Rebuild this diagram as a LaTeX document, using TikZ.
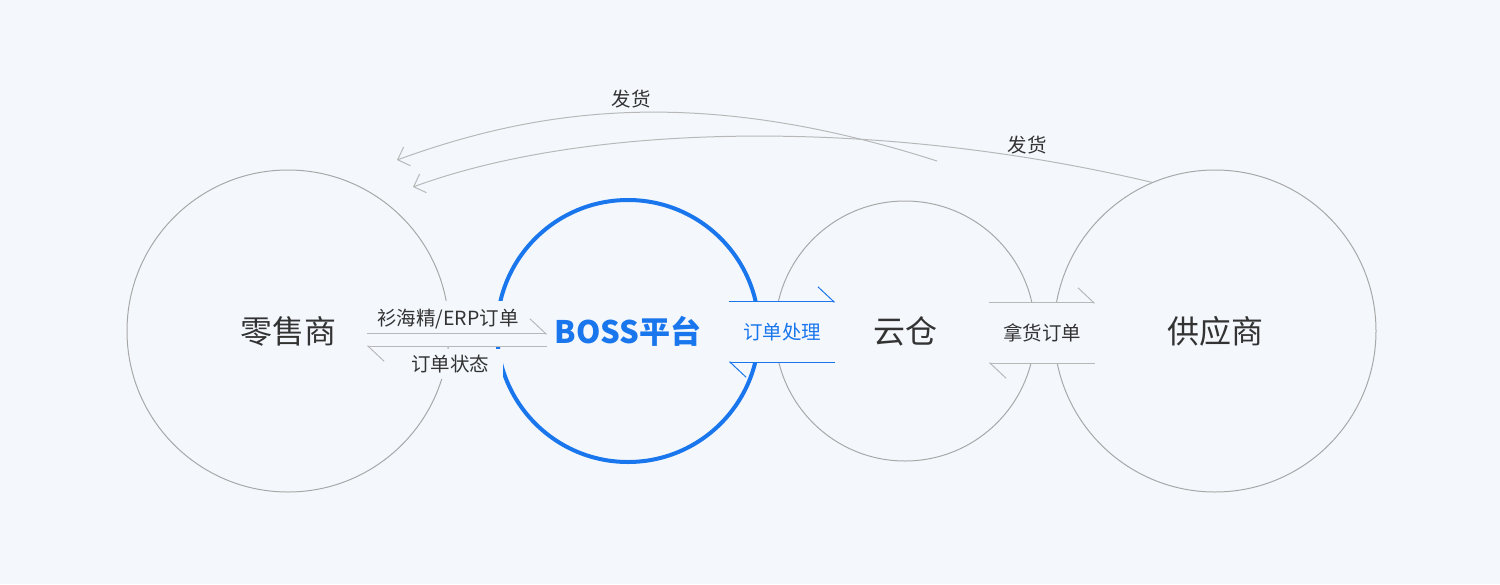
\documentclass[tikz,border=0pt]{standalone}
\usepackage{fontspec}
\setmainfont{Noto Sans CJK SC}
\usepackage{tikz}
\usetikzlibrary{positioning, arrows.meta}

\definecolor{bgcol}{HTML}{F4F8FD}
\definecolor{ringgray}{HTML}{A8A8A8}
\definecolor{linegray}{HTML}{B8B8B8}
\definecolor{bossblue}{HTML}{1A76EC}
\definecolor{txtgray}{HTML}{333333}

\begin{document}
\begin{tikzpicture}[
        x=1pt, y=-1pt,
        party/.style={circle, draw=ringgray, line width=1pt, text=txtgray, font=\fontsize{32}{32}\selectfont},
        core/.style={circle, draw=bossblue, line width=4pt, text=bossblue, font=\fontsize{31}{31}\selectfont\bfseries},
        tag/.style={fill=bgcol, text=txtgray, inner sep=6pt, font=\fontsize{19.5}{19.5}\selectfont},
        lane/.style={rectangle, fill=bgcol, inner sep=0pt},
        harp/.style={line width=1pt, draw=linegray, -{Straight Barb[left, length=16pt, width=30pt]}},
        ship/.style={line width=1pt, draw=linegray, -{Straight Barb[length=10pt, width=20pt]}}
    ]

        % 背景
        \fill[bgcol] (0,0) rectangle (1500,584);
        \useasboundingbox (0,0) rectangle (1500,584);

        % ===== 四个角色 =====
        \node (retail) [party, minimum size=322pt] at (288,331) {零售商};
        \node (boss) [core, minimum size=262pt, right=45.5pt of retail] {BOSS平台};
        \node (cloud) [party, minimum size=260pt, right=13.5pt of boss] {云仓};
        \node (supply) [party, minimum size=322pt, right=18pt of cloud] {供应商};

        % ===== 标签区域 =====
        \node (erpbox) [lane, minimum width=180pt, minimum height=12pt] at (457,340) {};
        \node (erp) [tag, inner xsep=12pt, inner ysep=8pt] at (448,319) {衫海精/ERP订单};
        \node (state) [tag, inner xsep=14pt] at (450,364) {订单状态};
        \node (handle) [lane, minimum width=106pt, minimum height=60pt, text=bossblue,
            font=\fontsize{19.5}{19.5}\selectfont] at (782,332) {订单处理};
        \node (pick) [lane, minimum width=106pt, minimum height=60pt, text=txtgray,
            font=\fontsize{19.5}{19.5}\selectfont] at (1042,333) {拿货订单};

        % ===== 箭头连接 =====
        \draw [harp] (erpbox.north west) -- (erpbox.north east);
        \draw [harp] (erpbox.south east) -- (erpbox.south west);
        \draw [harp, draw=bossblue] (handle.north west) -- (handle.north east);
        \draw [harp, draw=bossblue] (handle.south east) -- (handle.south west);
        \draw [harp] (pick.north west) -- (pick.north east);
        \draw [harp] (pick.south east) -- (pick.south west);

        % 发货
        \coordinate (cloudout) at (937,161);
        \coordinate (retailin1) at (397,160);
        \coordinate (retailin2) at (413,187);
        \draw [ship] (cloudout) .. controls (700,85) and (540,108) .. (retailin1);
        \draw [ship] (supply.113) .. controls (880,118) and (590,122) .. (retailin2);
        \node (ship1) [tag, fill=none] at (631,99) {发货};
        \node (ship2) [tag, fill=none] at (1027,145) {发货};

    \end{tikzpicture}
\end{document}
